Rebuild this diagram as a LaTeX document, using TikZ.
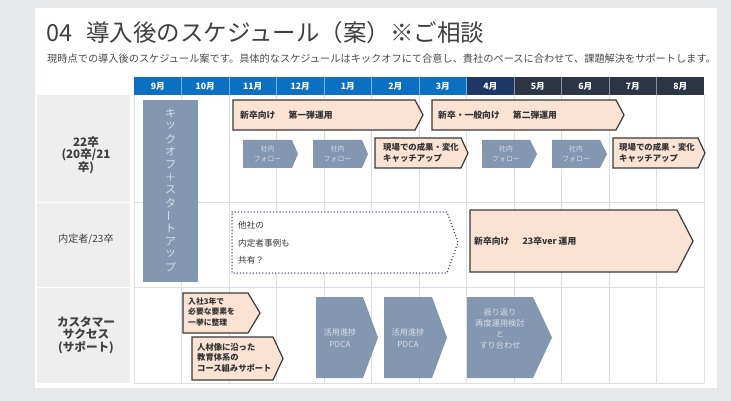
\documentclass[tikz,border=0pt]{standalone}
\usepackage{fontspec}
\setmainfont{Noto Sans CJK JP}
\definecolor{pagebg}{HTML}{E6E8EA}
\definecolor{titlegray}{HTML}{3F3F3F}
\definecolor{subgray}{HTML}{4A4A4A}
\definecolor{hblue}{HTML}{0B6FC2}
\definecolor{hnavy}{HTML}{1E3865}
\definecolor{hdark}{HTML}{2C3545}
\definecolor{labelbg}{HTML}{EEEEEE}
\definecolor{gridc}{HTML}{DEDEDE}
\definecolor{peach}{HTML}{FBE3D3}
\definecolor{edge}{HTML}{3A3A3A}
\definecolor{slate}{HTML}{8497B0}
\definecolor{slatetxt}{HTML}{D7DEE8}
\definecolor{dotnavy}{HTML}{2F3D78}
\definecolor{boxtxt}{HTML}{333333}
\newcommand\tlarrow[6]{\draw[#1] (#2,#3) -- (#4,#3) -- (#5,{(#3+#6)/2}) -- (#4,#6) -- (#2,#6) -- cycle;}
\begin{document}
\begin{tikzpicture}[x=1pt,y=-1pt,
  peachbox/.style={fill=peach,draw=edge,line width=1.2pt,line join=miter},
  slatebox/.style={fill=slate,draw=none},
  dotbox/.style={draw=dotnavy,line width=1.5pt,line cap=round,dash pattern=on 0pt off 3.2pt,fill=white},
  boxlabel/.style={inner sep=0pt,text=boxtxt,font=\bfseries\fontsize{8.4}{10.5}\selectfont,align=left},
  toplabel/.style={boxlabel,font=\bfseries\fontsize{8.8}{10.5}\selectfont},
  smalllabel/.style={inner sep=0pt,text=boxtxt,font=\bfseries\fontsize{7.8}{10.2}\selectfont,align=left},
  slatelabel/.style={inner sep=0pt,text=slatetxt,font=\fontsize{6.8}{10.5}\selectfont,align=center},
  rowlabel/.style={inner sep=0pt,text=titlegray,font=\bfseries\fontsize{11.6}{12.5}\selectfont,align=center},
  monthlabel/.style={inner sep=0pt,text=white,font=\bfseries\fontsize{8.7}{10}\selectfont},
  kicklabel/.style={inner sep=0pt,text=slatetxt,font=\fontsize{11}{12}\selectfont}
]
\useasboundingbox (0,0) rectangle (731,401);
\fill[pagebg] (0,0) rectangle (731,401);
\fill[white] (35,8) rectangle (717,388);

% title and subtitle
\node[anchor=west,inner sep=0pt,text=titlegray,font=\fontsize{23.5}{26}\selectfont] (title) at (46,33) {04\hspace{0.6em}導入後のスケジュール（案）※ご相談};
\node[anchor=west,inner sep=0pt,text=subgray,font=\fontsize{10.2}{12}\selectfont] (sub) at (47,59) {現時点での導入後のスケジュール案です。具体的なスケジュールはキックオフにて合意し、貴社のペースに合わせて、課題解決をサポートします。};

% row label column
\fill[labelbg] (37,95) rectangle (130,201.5);
\fill[labelbg] (37,202.5) rectangle (130,286.5);
\fill[labelbg] (37,287.5) rectangle (130,383);

% grid
\foreach \k in {0,...,12} \draw[gridc,line width=0.6pt] ({134+47.5*\k},95) -- ({134+47.5*\k},383);
\foreach \yy in {202,287,383} \draw[gridc,line width=0.8pt] (134,\yy) -- (704,\yy);

% header
\foreach \k/\m in {0/9月,1/10月,2/11月,3/12月,4/1月,5/2月,6/3月,7/4月,8/5月,9/6月,10/7月,11/8月}{
  \ifnum\k<7 \def\hc{hblue}\else\ifnum\k=7 \def\hc{hnavy}\else\def\hc{hdark}\fi\fi
  \fill[\hc] ({134+47.5*\k},77) rectangle ({134+47.5*(\k+1)},95);
  \node[monthlabel] (m\k) at ({134+47.5*\k+23.75},86) {\m};
}
\foreach \k in {1,...,11} \draw[white,opacity=0.45,line width=0.6pt] ({134+47.5*\k},77) -- ({134+47.5*\k},95);

% row labels
\node[rowlabel] (r1) at (86,155) {22卒\\(20卒/21\\卒)};
\node[rowlabel,font=\fontsize{10}{11}\selectfont] (r2) at (86,239) {内定者/23卒};
\node[rowlabel] (r3) at (86,335) {カスタマー\\サクセス\\(サポート)};

% kickoff bar
\fill[slate] (143,100) rectangle (198,282);
\foreach \c [count=\i] in {キ,ッ,ク,オ,フ,＋,ス,タ,{\rotatebox[origin=c]{90}{ー}},ト,ア,ッ,プ}
  \node[kicklabel] (k\i) at (170.5,{100.5+12.8*\i}) {\c};

% row 1
\tlarrow{peachbox}{233}{100}{415}{423}{130}
\node[toplabel,anchor=west] (a1) at (240,115) {新卒向け\hspace{1.5em}第一弾運用};
\tlarrow{peachbox}{432}{100}{616}{624}{130}
\node[toplabel,anchor=west] (a2) at (438,115) {新卒・一般向け\hspace{1.5em}第二弾運用};

\tlarrow{slatebox}{243}{140}{292}{298}{168}
\node[slatelabel] (g1) at (267.5,154) {社内\\フォロー};
\tlarrow{slatebox}{313}{140}{362}{368}{168}
\node[slatelabel] (g2) at (337.5,154) {社内\\フォロー};
\tlarrow{peachbox}{375}{138}{461}{468}{168}
\node[boxlabel,anchor=west] (p1) at (383,153) {現場での成果・変化\\キャッチアップ};
\tlarrow{slatebox}{482}{140}{530}{537}{168}
\node[slatelabel] (g3) at (506,154) {社内\\フォロー};
\tlarrow{slatebox}{552}{140}{600}{607}{168}
\node[slatelabel] (g4) at (576,154) {社内\\フォロー};
\tlarrow{peachbox}{613}{138}{698}{705}{168}
\node[boxlabel,anchor=west] (p2) at (619,153) {現場での成果・変化\\キャッチアップ};

% row 2
\tlarrow{dotbox}{232}{212}{447}{458}{273}
\node[boxlabel,anchor=west,font=\fontsize{8.6}{17.5}\selectfont] (d1) at (238,243) {他社の\\内定者事例も\\共有？};
\tlarrow{peachbox}{470}{210}{677}{693}{272}
\node[toplabel,anchor=west] (b1) at (474,241) {新卒向け\hspace{1.5em}23卒ver 運用};

% row 3
\tlarrow{peachbox}{183}{293}{248}{260}{333}
\node[smalllabel,anchor=west] (c1) at (188,312) {入社3年で\\必要な要素を\\一挙に整理};
\tlarrow{peachbox}{192}{337}{273}{283}{380}
\node[smalllabel,anchor=west,font=\bfseries\fontsize{8.3}{10.5}\selectfont] (c2) at (197,357.5) {人材像に沿った\\教育体系の\\コース組みサポート};
\tlarrow{slatebox}{316}{297}{363}{378}{378}
\node[slatelabel,font=\fontsize{8.2}{12.5}\selectfont] (g5) at (340,338) {活用進捗\\PDCA};
\tlarrow{slatebox}{384}{297}{432}{447}{378}
\node[slatelabel,font=\fontsize{8.2}{12.5}\selectfont] (g6) at (408,338) {活用進捗\\PDCA};
\tlarrow{slatebox}{467}{297}{533}{552}{378}
\node[slatelabel,font=\fontsize{8.2}{11}\selectfont] (g7) at (500,329) {振り返り\\再度運用検討\\と\\すり合わせ};
\end{tikzpicture}
\end{document}
